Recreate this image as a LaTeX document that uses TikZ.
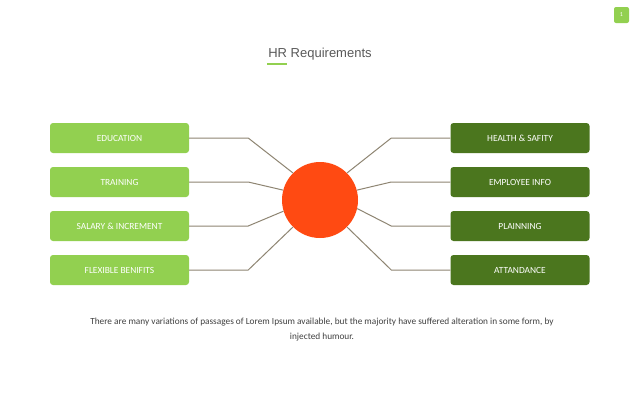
\documentclass[tikz,border=0pt]{standalone}
\usepackage{fontspec}
\setmainfont{Carlito}
\newfontfamily\titlefont{Liberation Sans}
\definecolor{lgreen}{HTML}{92D050}
\definecolor{dgreen}{HTML}{4B761E}
\definecolor{orng}{HTML}{FF4A12}
\definecolor{linec}{HTML}{8E8572}
\definecolor{titlec}{HTML}{595959}
\definecolor{bodyc}{HTML}{404040}
\begin{document}
\begin{tikzpicture}[x=1pt,y=-1pt,
  lbox/.style={draw=none,fill=lgreen,rounded corners=3pt,minimum width=139pt,minimum height=30pt,inner sep=0pt,text=white,font=\fontsize{9.4}{10}\selectfont},
  rbox/.style={lbox,fill=dgreen},
  conn/.style={draw=linec,line width=1pt}]
\fill[white] (0,0) rectangle (640,400);
\useasboundingbox (0,0) rectangle (640,400);
% page badge
\node[fill=lgreen,rounded corners=2pt,minimum width=15pt,minimum height=16pt,inner sep=0pt,text=white,font=\fontsize{6}{7}\selectfont] (pg) at (621.5,15) {1};
% title
\node[font=\titlefont\fontsize{13}{15}\selectfont,text=titlec,inner sep=0pt] (title) at (320,54.5) {HR Requirements};
\coordinate (ul1) at (267,64);
\coordinate (ul2) at (287,64);
\draw[lgreen,line width=2pt] (ul1) -- (ul2);
% circle
\node[circle,fill=orng,minimum size=76pt,inner sep=0pt] (c) at (320,200) {};
% left boxes
\node[lbox] (l1) at (119.5,138) {EDUCATION};
\node[lbox] (l2) at (119.5,182) {TRAINING};
\node[lbox] (l3) at (119.5,226) {SALARY \& INCREMENT};
\node[lbox] (l4) at (119.5,270) {FLEXIBLE BENIFITS};
% right boxes
\node[rbox] (r1) at (520,138) {HEALTH \& SAFITY};
\node[rbox] (r2) at (520,182) {EMPLOYEE INFO};
\node[rbox] (r3) at (520,226) {PLAINNING};
\node[rbox] (r4) at (520,270) {ATTANDANCE};
% connectors
\draw[conn] (l1.east) -- ++(59,0) -- (c.135);
\draw[conn] (l2.east) -- ++(59,0) -- (c.165);
\draw[conn] (l3.east) -- ++(59,0) -- (c.197);
\draw[conn] (l4.east) -- ++(59,0) -- (c.225);
\draw[conn] (r1.west) -- ++(-59,0) -- (c.45);
\draw[conn] (r2.west) -- ++(-59,0) -- (c.15);
\draw[conn] (r3.west) -- ++(-59,0) -- (c.-13);
\draw[conn] (r4.west) -- ++(-59,0) -- (c.-45);
% body text
\node[text=bodyc,font=\fontsize{9.3}{15}\selectfont,align=center,inner sep=0pt] (body) at (322,330) {There are many variations of passages of Lorem Ipsum available, but the majority have suffered alteration in some form, by\\injected humour.};
\end{tikzpicture}
\end{document}
